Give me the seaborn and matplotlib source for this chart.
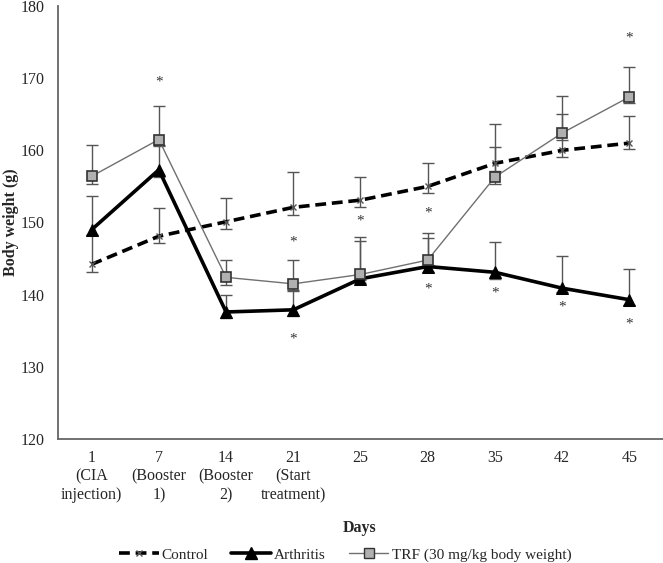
import numpy as np
import pandas as pd
import matplotlib
matplotlib.use("Agg")
import matplotlib.pyplot as plt
import seaborn as sns
from matplotlib.lines import Line2D

days = ["1\n(CIA\ninjection)", "7\n(Booster\n1)", "14\n(Booster\n2)", "21\n(Start\ntreatment)",
        "25", "28", "35", "42", "45"]

control = [144.2, 148.1, 150.1, 152.1, 153.1, 155.0, 158.2, 160.0, 161.0]
control_hi = [148.3, 152.0, 153.4, 157.0, 156.3, 158.2, 160.5, 165.0, 164.7]
control_lo = [143.1, 147.1, 149.1, 151.1, 152.1, 154.1, 157.2, 159.1, 160.2]

arthritis = [149.0, 157.3, 137.6, 137.9, 142.2, 143.9, 143.1, 140.9, 139.3]
arthritis_hi = [153.7, 160.8, 139.9, 140.5, 147.4, 147.9, 147.3, 145.3, 143.5]
arthritis_lo = [148.2, 156.3, 136.8, 137.1, 141.6, 143.1, 142.2, 140.4, 138.5]

trf = [156.4, 161.5, 142.4, 141.5, 142.8, 144.8, 156.3, 162.4, 167.4]
trf_hi = [160.7, 166.2, 144.8, 144.8, 148.0, 148.5, 163.7, 167.5, 171.5]
trf_lo = [155.4, 160.6, 141.4, 140.6, 142.1, 144.1, 155.4, 161.5, 166.6]

star_pos = [1, 3, 3, 4, 5, 5, 6, 7, 8, 8]
star_val = [169.4, 147.3, 133.9, 150.2, 151.3, 140.8, 140.2, 138.3, 175.6, 135.9]

sns.set_theme(style="white")
plt.rcParams["font.family"] = ["Liberation Serif", "DejaVu Serif"]

fig = plt.figure(figsize=(6.63, 5.63), dpi=100)
ax = fig.add_axes([58 / 663, 1 - 439 / 563, 605 / 663, 433 / 563])

x = np.arange(len(days))
df = pd.DataFrame({"x": x, "Control": control, "Arthritis": arthritis, "TRF": trf})

ecol = "#555555"
def errs(vals, hi, lo):
    v = np.array(vals); return [v - np.array(lo), np.array(hi) - v]

ax.errorbar(x, control, yerr=errs(control, control_hi, control_lo), fmt="none",
            ecolor=ecol, elinewidth=1, capsize=4, capthick=1, zorder=1)
ax.errorbar(x, arthritis, yerr=errs(arthritis, arthritis_hi, arthritis_lo), fmt="none",
            ecolor=ecol, elinewidth=1, capsize=4, capthick=1, zorder=1)
ax.errorbar(x, trf, yerr=errs(trf, trf_hi, trf_lo), fmt="none",
            ecolor=ecol, elinewidth=1, capsize=4, capthick=1, zorder=1)

sns.lineplot(data=df, x="x", y="Control", ax=ax, color="black", lw=2.6,
             linestyle=(0, (3, 1.6)), marker="x", markersize=5, markeredgecolor="#555555",
             markeredgewidth=1, zorder=3)
sns.lineplot(data=df, x="x", y="Arthritis", ax=ax, color="black", lw=2.6,
             marker="^", markersize=8, markeredgecolor="black", zorder=4)
sns.lineplot(data=df, x="x", y="TRF", ax=ax, color="#707070", lw=1.0,
             marker="s", markersize=6.5, markerfacecolor="#b0b0b0",
             markeredgecolor="#333333", markeredgewidth=1.2, zorder=5)

for p, v in zip(star_pos, star_val):
    ax.text(p, v, "*", ha="center", va="center", fontsize=11, color="#333333")

ax.set_xlim(-0.5, len(days) - 0.5)
ax.set_ylim(120, 180)
ax.set_yticks([120, 130, 140, 150, 160, 170, 180])
ax.set_xticks(x)
ax.set_xticklabels(days, fontsize=11.5, linespacing=1.2)
ax.tick_params(axis="y", labelsize=11.5, length=0, pad=9.5)
ax.tick_params(axis="x", length=0, pad=8)
for s in ["top", "right"]:
    ax.spines[s].set_visible(False)
for s in ["left", "bottom"]:
    ax.spines[s].set_color("#666666")
    ax.spines[s].set_linewidth(1.3)
ax.set_ylabel("Body weight (g)", fontsize=11.5, fontweight="bold")
ax.yaxis.set_label_coords(-39 / 605, (439 - 222) / 433)
ax.set_xlabel("")
fig.text(360 / 663, 1 - 528 / 563, "Days", ha="center", va="center", fontsize=11.5, fontweight="bold")

handles = [
    Line2D([], [], color="black", lw=2.6, linestyle=(0, (3, 1.6)), marker="x", markersize=5,
           markeredgecolor="#555555"),
    Line2D([], [], color="black", lw=2.6, marker="^", markersize=8),
    Line2D([], [], color="#707070", lw=1.0, marker="s", markersize=6.5, markerfacecolor="#b0b0b0",
           markeredgecolor="#333333"),
]
labels = ["Control", "Arthritis", "TRF (30 mg/kg body weight)"]
fig.legend(handles, labels, loc="center", bbox_to_anchor=(345 / 663, 1 - 555 / 563), ncol=3,
           frameon=False, fontsize=11, handlelength=2.6, columnspacing=1.5, handletextpad=0.2)

fig.savefig("out.png", dpi=100)
